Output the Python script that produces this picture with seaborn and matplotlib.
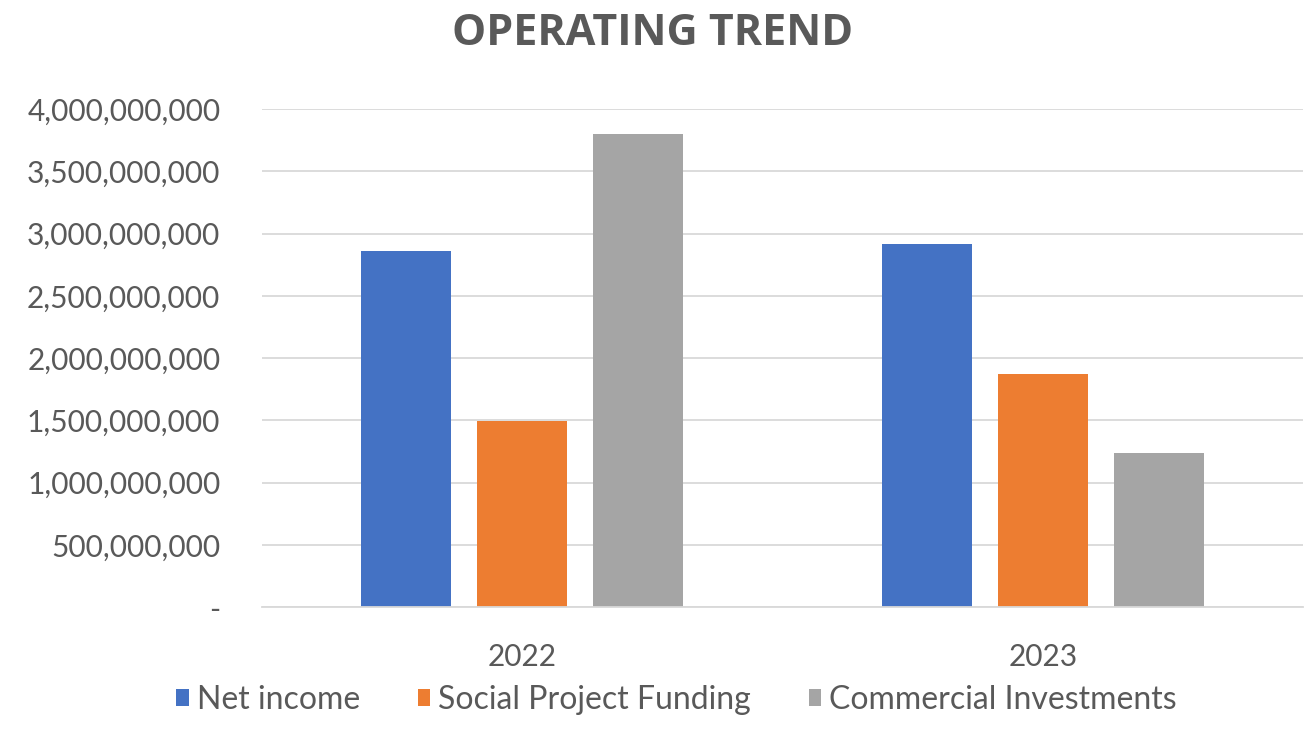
import matplotlib
matplotlib.use("Agg")
import matplotlib.pyplot as plt
from matplotlib.ticker import FuncFormatter, MultipleLocator
import pandas as pd
import seaborn as sns

years = ["2022", "2023"]
series = ["Net income", "Social Project Funding", "Commercial Investments"]
net_income = [2_864_000_000, 2_914_000_000]
social_funding = [1_495_000_000, 1_870_000_000]
commercial_inv = [3_800_000_000, 1_239_000_000]
colors = ["#4472C4", "#ED7D31", "#A5A5A5"]

rows = []
for name, vals in zip(series, [net_income, social_funding, commercial_inv]):
    for yr, v in zip(years, vals):
        rows.append({"Year": yr, "Series": name, "Value": v})
df = pd.DataFrame(rows)

sns.set_theme(style="white")
plt.rcParams["font.family"] = ["Lato", "DejaVu Sans"]

fig = plt.figure(figsize=(13.06, 7.43), dpi=100)
ax = fig.add_axes([0.2006, 0.183, 0.7974, 0.670])

sns.barplot(data=df, x="Year", y="Value", hue="Series", order=years,
            hue_order=series, palette=colors, width=0.668, gap=0.224,
            saturation=1, errorbar=None, linewidth=0, ax=ax)

ax.set_ylim(0, 4_000_000_000)
ax.set_xlim(-0.5, 1.5)
ax.yaxis.set_major_locator(MultipleLocator(500_000_000))
ax.yaxis.set_major_formatter(FuncFormatter(lambda v, p: "-" if v == 0 else f"{v:,.0f}"))
ax.grid(axis="y", color="#D9D9D9", linewidth=1.3)
ax.set_axisbelow(True)
for s in ["left", "right", "top"]:
    ax.spines[s].set_visible(False)
ax.spines["bottom"].set_color("#D9D9D9")
ax.spines["bottom"].set_linewidth(1.3)
ax.tick_params(axis="both", length=0, colors="#595959", labelsize=21.5)
ax.tick_params(axis="y", pad=30)
ax.tick_params(axis="x", pad=26)
ax.set_xlabel("")
ax.set_ylabel("")

fig.text(0.5, 0.955, "OPERATING TREND", ha="center", va="center",
         fontsize=31, fontweight="bold", color="#595959",
         family=["Open Sans", "DejaVu Sans"])

handles, labels = ax.get_legend_handles_labels()
ax.legend_.remove()
fig.legend(handles, labels, loc="center", bbox_to_anchor=(0.518, 0.058),
           ncol=3, frameon=False, fontsize=23, labelcolor="#595959",
           handlelength=0.4, handleheight=0.4, handletextpad=0.25,
           columnspacing=1.8)

fig.savefig("out.png", dpi=100, facecolor="white")
